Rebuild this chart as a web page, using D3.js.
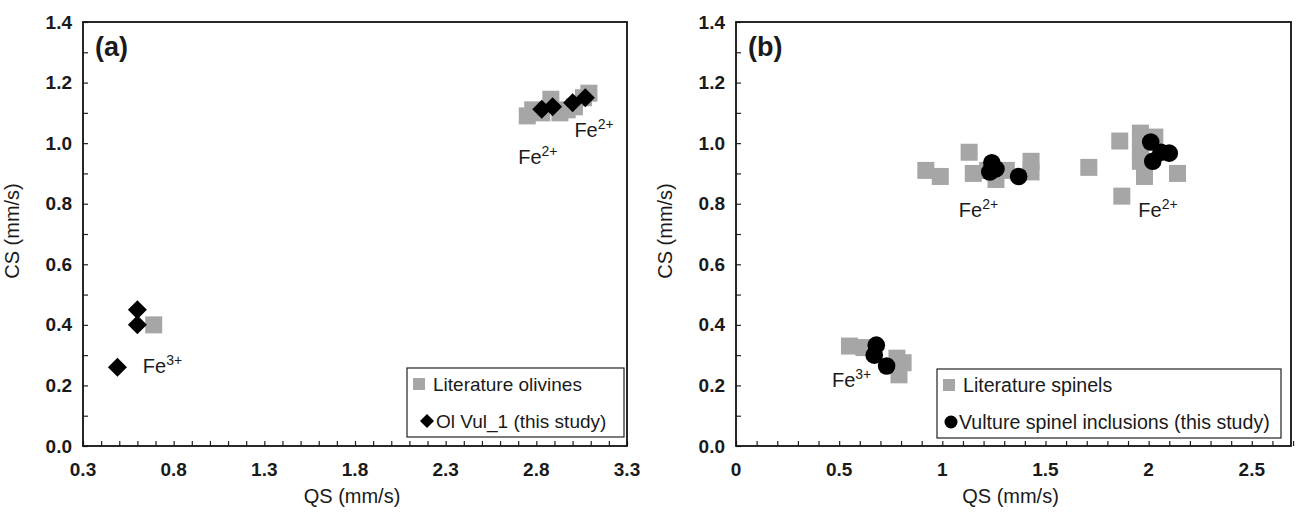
<!DOCTYPE html>
<html><head><meta charset="utf-8">
<script src="https://cdn.jsdelivr.net/npm/d3@7"></script>
<style>
html,body{margin:0;padding:0;background:#fff;}
svg text{font-family:"Liberation Sans",Arial,sans-serif;fill:#1a1a1a;}
</style></head>
<body><svg id="chart" width="1309" height="513"></svg>
<script>
// ---------- DATA ----------
// Panel (a): olivines
const olivineLitQS = [0.69, 2.75, 2.78, 2.83, 2.88, 2.93, 2.97, 3.01, 3.06, 3.09];
const olivineLitCS = [0.40, 1.09, 1.11, 1.10, 1.145, 1.10, 1.11, 1.12, 1.15, 1.165];
const olVulQS = [0.49, 0.60, 0.60, 2.83, 2.89, 3.00, 3.07];
const olVulCS = [0.26, 0.40, 0.45, 1.112, 1.12, 1.133, 1.15];
// Panel (b): spinels
const spinelLitQS = [0.55, 0.62, 0.78, 0.81, 0.79, 0.92, 0.99, 1.13, 1.15, 1.26, 1.31, 1.43, 1.43, 1.22,
                     1.71, 1.86, 1.96, 1.96, 1.96, 1.98, 2.14, 1.87, 2.03];
const spinelLitCS = [0.33, 0.325, 0.29, 0.275, 0.235, 0.91, 0.89, 0.97, 0.90, 0.88, 0.91, 0.94, 0.905, 0.91,
                     0.92, 1.007, 1.033, 0.98, 0.94, 0.89, 0.90, 0.825, 1.02];
const vultureQS = [0.68, 0.67, 0.73, 1.24, 1.23, 1.26, 1.37, 2.01, 2.06, 2.10, 2.02];
const vultureCS = [0.333, 0.30, 0.264, 0.935, 0.905, 0.915, 0.89, 1.004, 0.97, 0.967, 0.94];
// Axis ticks
const yTickLabels = [0, 0.2, 0.4, 0.6, 0.8, 1.0, 1.2, 1.4];
const xTickLabelsA = [0.3, 0.8, 1.3, 1.8, 2.3, 2.8, 3.3];
const xTickLabelsB = [0, 0.5, 1, 1.5, 2, 2.5];
// Annotations
const labelsA = [{t:"Fe", s:"2+", qs:2.70, cs:0.93}, {t:"Fe", s:"2+", qs:3.01, cs:1.02}, {t:"Fe", s:"3+", qs:0.63, cs:0.24}];
const labelsB = [{t:"Fe", s:"2+", qs:1.08, cs:0.755}, {t:"Fe", s:"2+", qs:1.95, cs:0.755}, {t:"Fe", s:"3+", qs:0.465, cs:0.195}];
const legendA = ["Literature olivines", "Ol Vul_1 (this study)"];
const legendB = ["Literature spinels", "Vulture spinel inclusions (this study)"];

// ---------- DRAW ----------
const svg = d3.select("#chart");
const GRAY = "#a6a6a6";
const plotTop = 22, plotBottom = 446;

function panel(opt){
  const g = svg.append("g");
  const x = d3.scaleLinear().domain(opt.xDomain).range([opt.left, opt.right]);
  const y = d3.scaleLinear().domain([0, 1.4]).range([plotBottom, plotTop]);

  const xMinor = d3.range(Math.round(opt.xDomain[0]*10), Math.round(opt.xDomain[1]*10)+1).map(v=>v/10);
  const yMinor = d3.range(0, 15).map(v=>v/10);
  const xAxis = d3.axisBottom(x).tickValues(xMinor).tickSize(-5).tickFormat("");
  const yAxis = d3.axisLeft(y).tickValues(yMinor).tickSize(-5).tickFormat("");
  const gx = g.append("g").attr("transform",`translate(0,${plotBottom})`).call(xAxis);
  const gy = g.append("g").attr("transform",`translate(${opt.left},0)`).call(yAxis);
  [gx,gy].forEach(a=>{a.select(".domain").remove(); a.selectAll("line").attr("stroke","#222").attr("stroke-width",1.2);});

  g.append("rect").attr("x",opt.left).attr("y",plotTop).attr("width",opt.right-opt.left).attr("height",plotBottom-plotTop)
    .attr("fill","none").attr("stroke","#111").attr("stroke-width",1.8);

  g.selectAll(".yl").data(yTickLabels).join("text")
    .attr("x",opt.left-11).attr("y",d=>y(d)+6.5).attr("text-anchor","end")
    .attr("font-size",19).attr("font-weight","bold").text(d=>d.toFixed(1));
  g.selectAll(".xl").data(opt.xLabels).join("text")
    .attr("x",d=>x(d)).attr("y",plotBottom+30).attr("text-anchor","middle")
    .attr("font-size",19).attr("font-weight","bold").text(opt.xFmt);

  g.append("text").attr("x",(opt.left+opt.right)/2 - 3).attr("y",503).attr("text-anchor","middle")
    .attr("font-size",20).text("QS (mm/s)");
  g.append("text").attr("transform",`translate(${opt.left-64},${(plotTop+plotBottom)/2 - 3}) rotate(-90)`)
    .attr("text-anchor","middle").attr("font-size",20).text("CS (mm/s)");

  g.append("text").attr("x",opt.left+12).attr("y",56).attr("font-size",27).attr("font-weight","bold").text(opt.letter);

  const lit = opt.litQS.map((q,i)=>[q,opt.litCS[i]]);
  g.selectAll(".lit").data(lit).join("rect")
    .attr("x",d=>x(d[0])-8.5).attr("y",d=>y(d[1])-8.5).attr("width",17).attr("height",17).attr("fill",GRAY);

  const own = opt.ownQS.map((q,i)=>[q,opt.ownCS[i]]);
  if(opt.marker==="diamond"){
    g.selectAll(".own").data(own).join("path")
      .attr("d",d=>{const cx=x(d[0]),cy=y(d[1]),r=9.5;return `M${cx},${cy-r}L${cx+r},${cy}L${cx},${cy+r}L${cx-r},${cy}Z`;})
      .attr("fill","#000");
  } else {
    g.selectAll(".own").data(own).join("circle")
      .attr("cx",d=>x(d[0])).attr("cy",d=>y(d[1])).attr("r",8.8).attr("fill","#000");
  }

  opt.labels.forEach(l=>{
    const t = g.append("text").attr("x",x(l.qs)).attr("y",y(l.cs)).attr("font-size",20);
    t.append("tspan").text(l.t);
    t.append("tspan").attr("font-size",14).attr("dy",-8).text(l.s);
  });

  const L = opt.legend;
  g.append("rect").attr("x",L.x).attr("y",L.y).attr("width",L.w).attr("height",69)
    .attr("fill","#fff").attr("stroke","#222").attr("stroke-width",1.2);
  g.append("rect").attr("x",L.x+6).attr("y",L.y+10).attr("width",12).attr("height",12).attr("fill",GRAY);
  if(opt.marker==="diamond"){
    const cx=L.x+20, cy=L.y+53, r=7;
    g.append("path").attr("d",`M${cx},${cy-r}L${cx+r},${cy}L${cx},${cy+r}L${cx-r},${cy}Z`).attr("fill","#000");
  } else {
    g.append("circle").attr("cx",L.x+14).attr("cy",L.y+53).attr("r",6.5).attr("fill","#000");
  }
  g.append("text").attr("x",L.x+26).attr("y",L.y+23).attr("font-size",L.fs).text(L.items[0]);
  g.append("text").attr("x",L.x+(opt.marker==="diamond"?29:22)).attr("y",L.y+60).attr("font-size",L.fs).text(L.items[1]);
}

panel({left:83, right:627, xDomain:[0.3,3.3], xLabels:xTickLabelsA, xFmt:d=>d.toFixed(1), letter:"(a)",
  litQS:olivineLitQS, litCS:olivineLitCS, ownQS:olVulQS, ownCS:olVulCS, marker:"diamond", labels:labelsA,
  legend:{x:407,y:368,w:217,fs:19,items:legendA}});
panel({left:736, right:1291, xDomain:[0,2.69], xLabels:xTickLabelsB, xFmt:d=>String(d), letter:"(b)",
  litQS:spinelLitQS, litCS:spinelLitCS, ownQS:vultureQS, ownCS:vultureCS, marker:"circle", labels:labelsB,
  legend:{x:937,y:369,w:344,fs:19.6,items:legendB}});
</script></body></html>
